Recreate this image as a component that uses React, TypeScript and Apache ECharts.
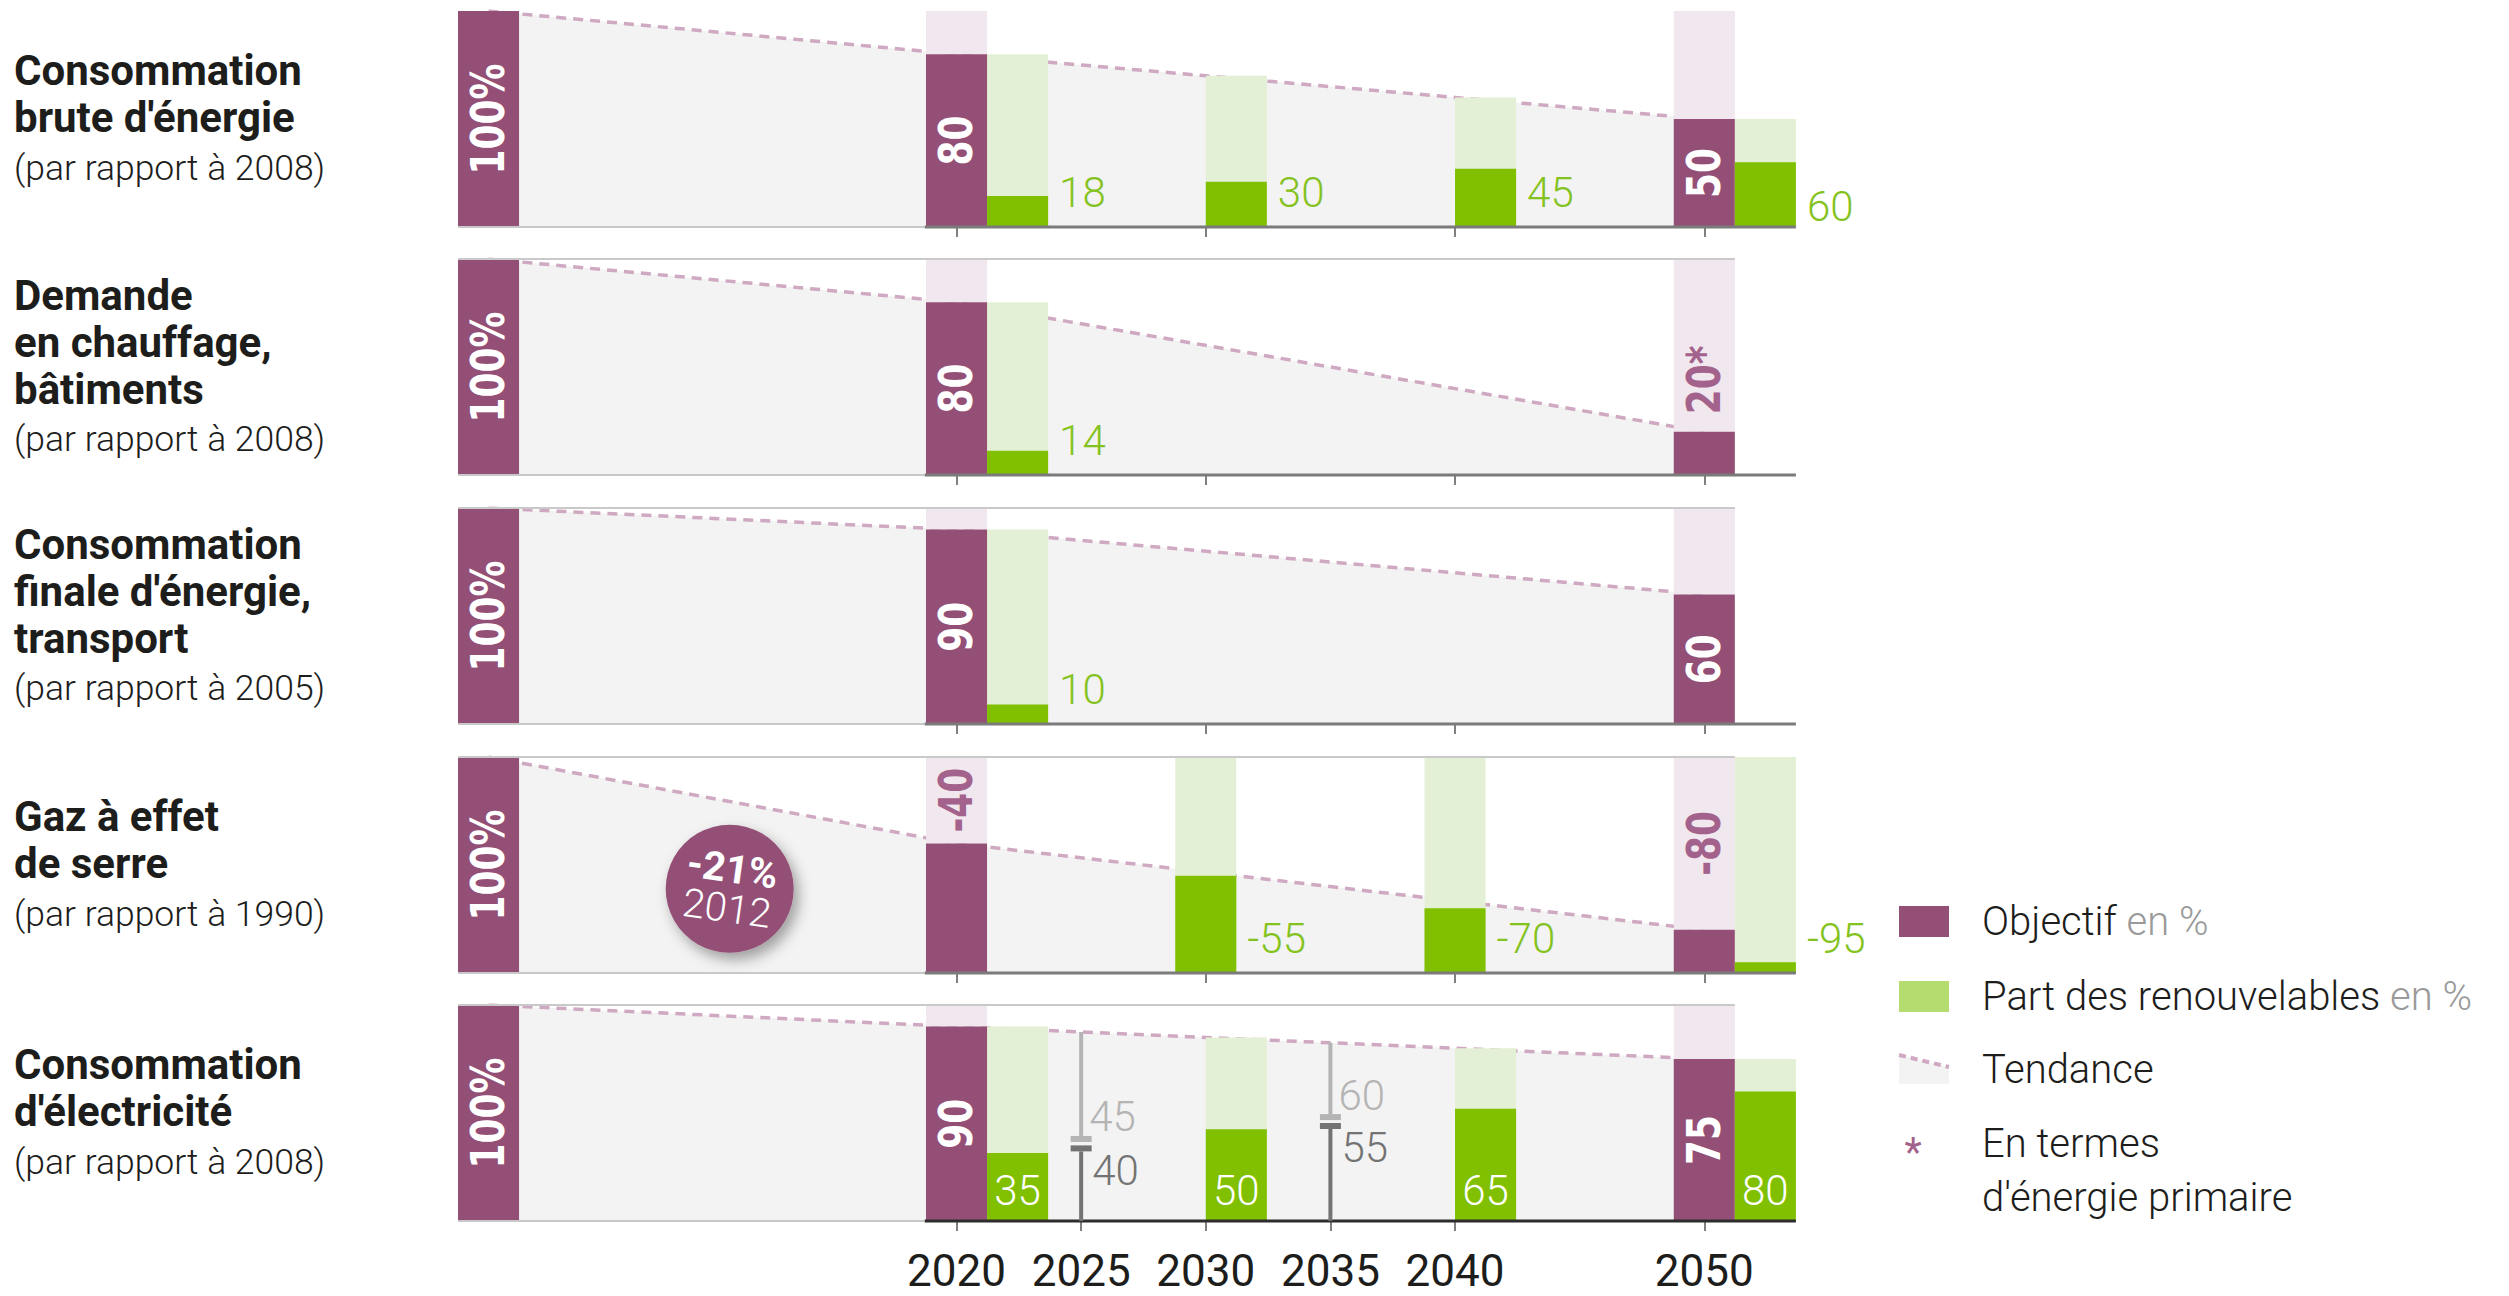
import React, { useEffect, useRef } from "react";
import * as echarts from "echarts";

// ---------------- DATA ----------------
const panelTitles: string[][] = [
  ["Consommation", "brute d'énergie"],
  ["Demande", "en chauffage,", "bâtiments"],
  ["Consommation", "finale d'énergie,", "transport"],
  ["Gaz à effet", "de serre"],
  ["Consommation", "d'électricité"],
];
const panelRefs = [
  "(par rapport à 2008)",
  "(par rapport à 2008)",
  "(par rapport à 2005)",
  "(par rapport à 1990)",
  "(par rapport à 2008)",
];
// panel 4 values are reductions relative to the 100% base
const isReduction = [false, false, false, true, false];

const baseValue = 100;
const objectiveYears = [2020, 2050];
const objectiveValues = [
  [80, 50],
  [80, 20],
  [90, 60],
  [-40, -80],
  [90, 75],
];
const objectiveNotes = [
  ["", ""],
  ["", "*"],
  ["", ""],
  ["", ""],
  ["", ""],
];

const renewYears = [
  [2020, 2030, 2040, 2050],
  [2020],
  [2020],
  [2030, 2040, 2050],
  [2020, 2030, 2040, 2050],
];
const renewValues = [
  [18, 30, 45, 60],
  [14],
  [10],
  [-55, -70, -95],
  [35, 50, 65, 80],
];
// total on which the renewables share is drawn (trend level at that year)
const renewTotals = [
  [80, 70, 60, 50],
  [80],
  [90],
  [100, 100, 100],
  [90, 85, 80, 75],
];

const trendYears = [
  [2020, 2030, 2040, 2050],
  [2020, 2050],
  [2020, 2050],
  [2020, 2050],
  [2020, 2030, 2040, 2050],
];
const trendValues = [
  [80, 70, 60, 50],
  [80, 20],
  [90, 60],
  [60, 20],
  [90, 85, 80, 75],
];

// electricity intermediate milestones (share of trend level)
const milestoneYears = [2025, 2035];
const milestoneTrend = [87.5, 82.5];
const milestoneHigh = [45, 60];
const milestoneLow = [40, 55];

const ghgYear = 2012;
const ghgChange = -21;

const bottomTickYears = [2020, 2025, 2030, 2035, 2040, 2050];
const panelTickYears = [2020, 2030, 2040, 2050];

const legendLabels = [
  ["Objectif", "en %"],
  ["Part des renouvelables", "en %"],
  ["Tendance", ""],
];
const footnoteLines = ["En termes", "d'énergie primaire"];

// ---------------- STYLE / LAYOUT ----------------
const PURPLE = "#944f76";
const PINK = "#f1e7ee";
const LIGHT_GREEN = "#e4f0d5";
const GREEN = "#80c000";
const GREEN_TEXT = "#84c21e";
const LEGEND_GREEN = "#b5dc6e";
const LABEL_PURPLE = "#a3628b";
const AREA = "#f3f3f3";
const DASH = "#cfa8c1";
const TEXT = "#1d1d1b";
const SANS = "Roboto, 'Open Sans', sans-serif";
const BAR_FONT = "'DejaVu Sans', Verdana, sans-serif";

const X_MIN = 2000;
const X_MAX = 2054;
const BW = 2.45;
const BASE_X = X_MIN + BW / 2;
const GRID_LEFT = 458;
const GRID_WIDTH = 1346;
const PANEL_TOPS = [11, 259, 508, 757, 1005];
const PANEL_H = 216;
const BUBBLE_POS = [2010.9, 39];
const PINK_LABEL_SHIFT = [0, -16, 0, 0, 0];

function panelItems(p: number) {
  const items: any[] = [];
  const red = isReduction[p];
  const axisStart = 2020 - BW / 2 - 0.05;
  const axisEnd = 2050 + BW * 1.5;
  items.push({ k: "hline", x0: X_MIN, x1: axisStart, y: 0, stroke: "#c8c8c8", w: 2, z: 20 });
  items.push({ k: "hline", x0: axisStart, x1: axisEnd, y: 0, stroke: p === 4 ? "#2d2d2d" : "#7b7b7b", w: 3, z: 21 });
  if (p > 0) items.push({ k: "hline", x0: X_MIN, x1: 2050 + BW / 2, y: 100, stroke: "#c9c9c9", w: 2, z: 20 });

  // base bar
  items.push({ k: "rect", x0: X_MIN, x1: X_MIN + BW, y0: 0, y1: baseValue, fill: PURPLE, z: 1 });
  items.push({ k: "vtext", x: BASE_X, y: baseValue / 2, text: baseValue + "%", fill: "#fff", z: 30 });

  // objectives
  objectiveYears.forEach((yr, j) => {
    const v = objectiveValues[p][j];
    const lvl = red ? 100 + v : v;
    items.push({ k: "rect", x0: yr - BW / 2, x1: yr + BW / 2, y0: lvl, y1: 100, fill: PINK, z: 1 });
    items.push({ k: "rect", x0: yr - BW / 2, x1: yr + BW / 2, y0: 0, y1: lvl, fill: PURPLE, z: 2 });
    const inside = !red && lvl >= 40;
    items.push({
      k: "vtext",
      x: yr,
      y: inside ? lvl / 2 : (lvl + 100) / 2 + PINK_LABEL_SHIFT[p],
      text: String(v) + objectiveNotes[p][j],
      fill: inside ? "#fff" : LABEL_PURPLE,
      z: 30,
    });
  });

  // renewables
  renewYears[p].forEach((yr, j) => {
    const v = renewValues[p][j];
    const total = renewTotals[p][j];
    const dark = red ? 100 + v : (v * total) / 100;
    let x0: number;
    if (objectiveYears.includes(yr)) x0 = yr + BW / 2;
    else if (red) x0 = yr - BW / 2;
    else x0 = yr;
    const x1 = x0 + BW;
    items.push({ k: "rect", x0, x1, y0: 0, y1: total, fill: LIGHT_GREEN, z: 1 });
    items.push({ k: "rect", x0, x1, y0: 0, y1: dark, fill: GREEN, z: 2 });
    if (p === 4) {
      items.push({ k: "ptext", x: (x0 + x1) / 2, y: 0, dy: -31, dx: 0, align: "center", text: String(v), fill: "#fff", z: 30 });
    } else {
      items.push({ k: "ptext", x: x1, y: 0, dx: 11, dy: yr === 2050 && !red ? -21 : -35, align: "left", text: String(v), fill: GREEN_TEXT, z: 30 });
    }
  });

  // milestones (electricity)
  if (p === 4) {
    milestoneYears.forEach((yr, j) => {
      items.push({
        k: "milestone",
        x: yr,
        y: 0,
        top: milestoneTrend[j],
        hi: (milestoneHigh[j] * milestoneTrend[j]) / 100,
        lo: (milestoneLow[j] * milestoneTrend[j]) / 100,
        hiText: String(milestoneHigh[j]),
        loText: String(milestoneLow[j]),
        z: 25,
      });
    });
  }
  return items;
}

function makeRender(items: any[]) {
  return (params: any, api: any) => {
    const it = items[params.dataIndex];
    if (it.k === "rect") {
      const a = api.coord([it.x0, it.y1]);
      const b = api.coord([it.x1, it.y0]);
      return {
        type: "rect",
        z2: it.z,
        shape: { x: a[0], y: a[1], width: b[0] - a[0], height: b[1] - a[1] },
        style: { fill: it.fill },
      };
    }
    if (it.k === "hline") {
      const a = api.coord([it.x0, it.y]);
      const b = api.coord([it.x1, it.y]);
      return {
        type: "line",
        z2: it.z,
        shape: { x1: a[0], y1: a[1], x2: b[0], y2: b[1] },
        style: { stroke: it.stroke, lineWidth: it.w },
      };
    }
    if (it.k === "vtext") {
      const c = api.coord([it.x, it.y]);
      return {
        type: "text",
        z2: it.z,
        x: c[0],
        y: c[1],
        rotation: Math.PI / 2,
        scaleX: 0.78,
        style: {
          text: it.text,
          fill: it.fill,
          fontSize: 46,
          fontWeight: "bold",
          fontFamily: BAR_FONT,
          align: "center",
          verticalAlign: "middle",
        },
      };
    }
    if (it.k === "ptext") {
      const c = api.coord([it.x, it.y]);
      return {
        type: "text",
        z2: it.z,
        x: c[0] + it.dx,
        y: c[1] + it.dy,
        style: {
          text: it.text,
          fill: it.fill,
          fontSize: 42,
          fontWeight: 300,
          fontFamily: SANS,
          align: it.align,
          verticalAlign: "middle",
        },
      };
    }
    if (it.k === "milestone") {
      const base = api.coord([it.x, 0]);
      const x = base[0];
      const yTop = api.coord([it.x, it.top])[1];
      const yHi = api.coord([it.x, it.hi])[1];
      const yLo = api.coord([it.x, it.lo])[1];
      const light = "#b4b4b4";
      const dark = "#737373";
      return {
        type: "group",
        children: [
          { type: "line", z2: 25, shape: { x1: x, y1: yTop, x2: x, y2: yHi }, style: { stroke: light, lineWidth: 4 } },
          { type: "rect", z2: 26, shape: { x: x - 10.5, y: yHi, width: 21, height: 6 }, style: { fill: light } },
          { type: "rect", z2: 26, shape: { x: x - 10.5, y: yLo, width: 21, height: 6 }, style: { fill: dark } },
          { type: "line", z2: 25, shape: { x1: x, y1: yLo + 6, x2: x, y2: base[1] }, style: { stroke: dark, lineWidth: 4 } },
          {
            type: "text",
            z2: 30,
            x: x + 8,
            y: yHi - 19,
            style: { text: it.hiText, fill: light, fontSize: 42, fontWeight: 300, fontFamily: SANS, align: "left", verticalAlign: "middle" },
          },
          {
            type: "text",
            z2: 30,
            x: x + 11,
            y: yLo + 25,
            style: { text: it.loText, fill: dark, fontSize: 42, fontWeight: 300, fontFamily: SANS, align: "left", verticalAlign: "middle" },
          },
        ],
      };
    }
    return null;
  };
}

function buildOption() {
  const grid: any[] = [];
  const xAxis: any[] = [];
  const yAxis: any[] = [];
  const series: any[] = [];
  const graphic: any[] = [];

  for (let p = 0; p < 5; p++) {
    const last = p === 4;
    grid.push({ left: GRID_LEFT, width: GRID_WIDTH, top: PANEL_TOPS[p], height: PANEL_H, containLabel: false });
    xAxis.push({
      type: "value",
      gridIndex: p,
      min: X_MIN,
      max: X_MAX,
      axisLine: { show: false },
      splitLine: { show: false },
      axisTick: {
        show: true,
        customValues: last ? bottomTickYears : panelTickYears,
        length: 10,
        lineStyle: { color: "#808080", width: 2 },
      },
      axisLabel: last
        ? {
            show: true,
            customValues: bottomTickYears,
            formatter: (v: number) => String(v),
            fontSize: 44,
            fontFamily: SANS,
            color: TEXT,
            margin: 28,
          }
        : { show: false },
    });
    yAxis.push({ type: "value", gridIndex: p, min: 0, max: 100, show: false });

    const trendData = [[BASE_X, baseValue]].concat(trendYears[p].map((y, j) => [y, trendValues[p][j]]));
    series.push({
      type: "line",
      xAxisIndex: p,
      yAxisIndex: p,
      data: trendData,
      symbol: "none",
      silent: true,
      z: 2,
      lineStyle: { color: DASH, width: 3.5, type: [10, 7] },
      areaStyle: { color: AREA, opacity: 1 },
    });

    const items = panelItems(p);
    series.push({
      type: "custom",
      xAxisIndex: p,
      yAxisIndex: p,
      z: 3,
      silent: true,
      clip: false,
      data: items.map((it) => [it.x0 !== undefined ? it.x0 : it.x, it.y !== undefined ? it.y : 0]),
      renderItem: makeRender(items),
    });

    // left titles
    const lines = panelTitles[p];
    const center = PANEL_TOPS[p] + PANEL_H / 2;
    const blockH = (lines.length - 1) * 47 + 50;
    const y0 = center - blockH / 2;
    lines.forEach((t, j) => {
      graphic.push({
        type: "text",
        x: 14,
        y: y0 + j * 47,
        style: { text: t, fill: TEXT, fontSize: 42, fontWeight: "bold", fontFamily: SANS, verticalAlign: "middle" },
      });
    });
    graphic.push({
      type: "text",
      x: 14,
      y: y0 + (lines.length - 1) * 47 + 50,
      style: { text: panelRefs[p], fill: TEXT, fontSize: 35.5, fontWeight: 300, fontFamily: SANS, verticalAlign: "middle" },
    });
  }

  // GHG 2012 bubble
  series.push({
    type: "scatter",
    xAxisIndex: 3,
    yAxisIndex: 3,
    z: 6,
    silent: true,
    data: [BUBBLE_POS],
    symbolSize: 128,
    itemStyle: {
      color: PURPLE,
      opacity: 1,
      shadowBlur: 14,
      shadowOffsetX: 5,
      shadowOffsetY: 7,
      shadowColor: "rgba(0,0,0,0.35)",
    },
    label: {
      show: true,
      position: "inside",
      rotate: -8,
      formatter: `{a|${ghgChange}%}\n{b|${ghgYear}}`,
      rich: {
        a: { fontSize: 40, fontWeight: "bold", color: "#fff", fontFamily: SANS, lineHeight: 40 },
        b: { fontSize: 40, fontWeight: 300, color: "#fff", fontFamily: SANS, lineHeight: 40 },
      },
    },
  });

  // legend
  const LX = 1899;
  const TX = 1982;
  const legendRows = [921, 996, 1069];
  graphic.push({ type: "rect", shape: { x: LX, y: 906, width: 50, height: 31 }, style: { fill: PURPLE } });
  graphic.push({ type: "rect", shape: { x: LX, y: 981, width: 50, height: 31 }, style: { fill: LEGEND_GREEN } });
  graphic.push({
    type: "polygon",
    shape: { points: [[LX, 1055], [LX + 50, 1067], [LX + 50, 1084], [LX, 1084]] },
    style: { fill: AREA },
  });
  graphic.push({
    type: "line",
    shape: { x1: LX, y1: 1055, x2: LX + 50, y2: 1067 },
    style: { stroke: DASH, lineWidth: 4, lineDash: [7, 5] },
  });
  legendLabels.forEach((lab, j) => {
    graphic.push({
      type: "text",
      x: TX,
      y: legendRows[j],
      style: {
        text: lab[1] ? `{a|${lab[0]}}{b|\u00a0${lab[1]}}` : `{a|${lab[0]}}`,
        verticalAlign: "middle",
        rich: {
          a: { fontSize: 40, fontWeight: 300, fill: TEXT, fontFamily: SANS },
          b: { fontSize: 40, fontWeight: 300, fill: "#9a9a9a", fontFamily: SANS },
        },
      },
    });
  });
  graphic.push({
    type: "text",
    x: 1913,
    y: 1152,
    style: { text: "*", fill: LABEL_PURPLE, fontSize: 40, fontFamily: SANS, align: "center", verticalAlign: "middle" },
  });
  footnoteLines.forEach((t, j) => {
    graphic.push({
      type: "text",
      x: TX,
      y: 1143 + j * 54,
      style: { text: t, fill: TEXT, fontSize: 40, fontWeight: 300, fontFamily: SANS, verticalAlign: "middle" },
    });
  });

  return {
    animation: false,
    backgroundColor: "#ffffff",
    grid,
    xAxis,
    yAxis,
    series,
    graphic: { elements: graphic },
  };
}

export default function App() {
  const ref = useRef<HTMLDivElement>(null);
  useEffect(() => {
    document.body.style.margin = "0";
    const chart = echarts.init(ref.current as HTMLDivElement, null, { renderer: "svg" });
    chart.setOption(buildOption() as any);
    return () => chart.dispose();
  }, []);
  return (
    <div
      ref={ref}
      style={{ position: "absolute", left: 0, top: 0, width: 2509, height: 1296, overflow: "hidden" }}
    />
  );
}
